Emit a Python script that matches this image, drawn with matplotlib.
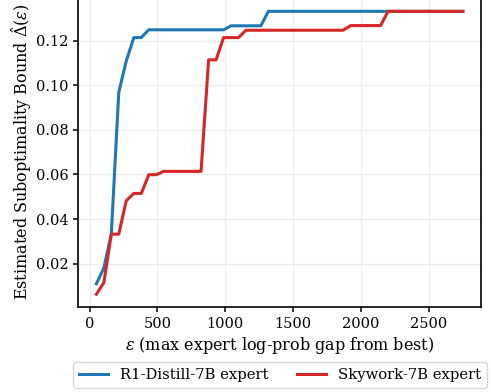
import matplotlib
matplotlib.use("Agg")
import matplotlib.pyplot as plt

# epsilon grid (max expert log-prob gap from best)
eps = [50, 105, 160, 215, 270, 326, 381, 436, 491, 546,
       601, 656, 711, 766, 821, 877, 932, 987, 1042, 1097,
       1152, 1207, 1262, 1317, 1372, 1428, 1483, 1538, 1593, 1648,
       1703, 1758, 1813, 1868, 1923, 1979, 2034, 2089, 2144, 2199,
       2254, 2309, 2364, 2419, 2474, 2530, 2585, 2640, 2695, 2750]

r1_distill = [0.0109, 0.0180, 0.0333, 0.0970, 0.1110, 0.1215, 0.1215, 0.1250, 0.1250, 0.1250,
              0.1250, 0.1250, 0.1250, 0.1250, 0.1250, 0.1250, 0.1250, 0.1250, 0.1268, 0.1268,
              0.1268, 0.1268, 0.1268, 0.1333, 0.1333, 0.1333, 0.1333, 0.1333, 0.1333, 0.1333,
              0.1333, 0.1333, 0.1333, 0.1333, 0.1333, 0.1333, 0.1333, 0.1333, 0.1333, 0.1333,
              0.1333, 0.1333, 0.1333, 0.1333, 0.1333, 0.1333, 0.1333, 0.1333, 0.1333, 0.1333]

skywork = [0.0062, 0.0114, 0.0332, 0.0332, 0.0482, 0.0515, 0.0515, 0.0599, 0.0599, 0.0614,
           0.0614, 0.0614, 0.0614, 0.0614, 0.0614, 0.1115, 0.1115, 0.1215, 0.1215, 0.1215,
           0.1248, 0.1248, 0.1248, 0.1248, 0.1248, 0.1248, 0.1248, 0.1248, 0.1248, 0.1248,
           0.1248, 0.1248, 0.1248, 0.1248, 0.1269, 0.1269, 0.1269, 0.1269, 0.1269, 0.1333,
           0.1333, 0.1333, 0.1333, 0.1333, 0.1333, 0.1333, 0.1333, 0.1333, 0.1333, 0.1333]

plt.rcParams["font.family"] = "DejaVu Serif"
plt.rcParams["mathtext.fontset"] = "dejavuserif"

fig = plt.figure(figsize=(4.91, 3.92), dpi=100)
ax = fig.add_axes([0.159, 0.217, 0.821, 0.791])

ax.plot(eps, r1_distill, color="#1f77b4", lw=2.2, label="R1-Distill-7B expert")
ax.plot(eps, skywork, color="#d62728", lw=2.2, label="Skywork-7B expert")

ax.set_ylim(0.0005, 0.1398)
ax.set_xlabel(r"$\epsilon$ (max expert log-prob gap from best)", fontsize=11.5, labelpad=3)
ax.set_ylabel(r"Estimated Suboptimality Bound $\hat{\Delta}(\epsilon)$", fontsize=11.5, labelpad=1)
ax.tick_params(labelsize=10.5, width=1.1, length=3.5)
ax.grid(True, color="#ebebeb", lw=0.8)
for s in ax.spines.values():
    s.set_linewidth(1.2)
    s.set_color("black")

fig.legend(loc="center", bbox_to_anchor=(0.57, 0.043), ncol=2, fontsize=10.6,
           frameon=True, edgecolor="#cccccc", columnspacing=1.9)

fig.savefig("out.png", dpi=100)
